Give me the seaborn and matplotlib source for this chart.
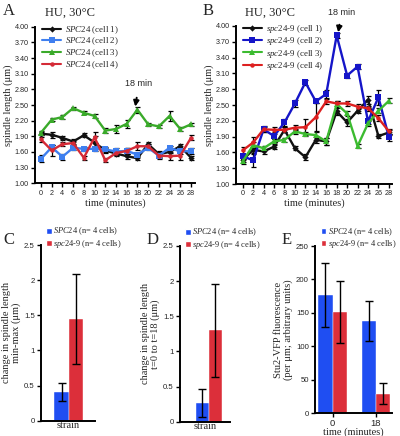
import numpy as np
import pandas as pd
import matplotlib
matplotlib.use("Agg")
import matplotlib.pyplot as plt
import seaborn as sns
from matplotlib.lines import Line2D
from matplotlib.patches import Patch

# ---------------- data ----------------
time_min = [0, 2, 4, 6, 8, 10, 12, 14, 16, 18, 20, 22, 24, 26, 28]

a_cell1 = [1.95, 1.93, 1.87, 1.80, 1.92, 1.78, 1.63, 1.57, 1.52, 1.48, 1.75, 1.56, 1.60, 1.71, 1.49]
a_cell2 = [1.47, 1.69, 1.51, 1.68, 1.66, 1.66, 1.65, 1.61, 1.62, 1.55, 1.68, 1.53, 1.68, 1.61, 1.62]
a_cell3 = [1.97, 2.22, 2.27, 2.44, 2.35, 2.29, 2.01, 2.04, 2.14, 2.41, 2.13, 2.09, 2.29, 2.04, 2.13]
a_cell4 = [1.84, 1.63, 1.75, 1.77, 1.49, 1.88, 1.44, 1.58, 1.62, 1.71, 1.71, 1.53, 1.52, 1.53, 1.87]
a_err1 = [0.03, 0.06, 0.04, 0.05, 0.04, 0.12, 0.05, 0.05, 0.05, 0.04, 0.04, 0.05, 0.05, 0.04, 0.04]
a_err2 = [0.07, 0.05, 0.06, 0.04, 0.04, 0.04, 0.05, 0.06, 0.05, 0.04, 0.04, 0.05, 0.04, 0.04, 0.05]
a_err3 = [0.04, 0.03, 0.03, 0.03, 0.03, 0.03, 0.04, 0.07, 0.08, 0.06, 0.03, 0.03, 0.09, 0.04, 0.03]
a_err4 = [0.04, 0.10, 0.04, 0.04, 0.04, 0.10, 0.04, 0.04, 0.05, 0.08, 0.04, 0.06, 0.07, 0.08, 0.05]

b_cell1 = [1.46, 1.65, 1.62, 1.71, 2.03, 1.68, 1.51, 1.84, 1.81, 2.38, 2.17, 2.39, 2.60, 1.91, 1.98]
b_cell2 = [1.53, 1.45, 2.04, 1.91, 2.17, 2.53, 2.93, 2.57, 2.71, 3.82, 3.06, 3.23, 2.19, 2.65, 1.89]
b_cell3 = [1.43, 1.74, 1.68, 1.81, 1.84, 2.00, 1.95, 1.93, 1.81, 2.52, 2.34, 1.72, 2.15, 2.39, 2.58]
b_cell4 = [1.64, 1.79, 2.04, 2.03, 2.03, 2.07, 2.08, 2.27, 2.57, 2.53, 2.53, 2.47, 2.44, 2.25, 2.00]
b_err1 = [0.05, 0.06, 0.04, 0.04, 0.05, 0.04, 0.06, 0.06, 0.06, 0.06, 0.07, 0.05, 0.08, 0.04, 0.05]
b_err2 = [0.05, 0.12, 0.06, 0.05, 0.06, 0.06, 0.05, 0.04, 0.07, 0.04, 0.04, 0.04, 0.05, 0.14, 0.07]
b_err3 = [0.04, 0.05, 0.04, 0.04, 0.04, 0.04, 0.04, 0.05, 0.07, 0.06, 0.05, 0.04, 0.05, 0.05, 0.05]
b_err4 = [0.06, 0.10, 0.05, 0.05, 0.05, 0.05, 0.15, 0.27, 0.05, 0.05, 0.05, 0.05, 0.05, 0.06, 0.05]

cell_labels = ["cell 1", "cell 2", "cell 3", "cell 4"]

strains = ["SPC24", "spc24-9"]
c_vals = [0.41, 1.45]
c_errs = [0.13, 0.64]
d_vals = [0.27, 1.30]
d_errs = [0.20, 0.66]
e_times = ["0", "18"]
e_spc24 = [176, 138]
e_spc24_err = [48, 30]
e_spc249 = [151, 29]
e_spc249_err = [46, 16]

# ---------------- style ----------------
sns.set_style("ticks")
plt.rcParams["font.family"] = ["Liberation Serif", "DejaVu Serif"]
plt.rcParams["mathtext.fontset"] = "custom"
plt.rcParams["mathtext.rm"] = "Liberation Serif"
plt.rcParams["mathtext.it"] = "Liberation Serif:italic"
plt.rcParams["axes.linewidth"] = 1.4

W, H = 400, 436
fig = plt.figure(figsize=(W / 100, H / 100), dpi=100)


def px_axes(left, top, right, bottom):
    return fig.add_axes([left / W, 1 - bottom / H, (right - left) / W, (bottom - top) / H])


def it_name(s):
    # italic strain name; use a real hyphen (U+2010) so mathtext does not make a minus sign
    return r"$\it{" + s.replace("-", "\u2010") + "}$"


def style_ax(ax, tick_fs=5.2):
    sns.despine(ax=ax)
    ax.tick_params(axis="both", direction="out", length=3, width=1.0, labelsize=tick_fs, pad=1.5, color="black")
    for lab in ax.get_xticklabels() + ax.get_yticklabels():
        lab.set_fontfamily("Liberation Sans")
    for s in ("left", "bottom"):
        ax.spines[s].set_color("black")


def line_panel(ax, series, errs, colors, strain_name, xlim, letter_xy, letter):
    df = pd.DataFrame({
        "t": np.tile(time_min, 4),
        "len": np.concatenate(series),
        "cell": np.repeat(cell_labels, len(time_min)),
    })
    markers = {"cell 1": "D", "cell 2": "s", "cell 3": "^", "cell 4": "o"}
    msize = {"cell 1": 3.2, "cell 2": 3.8, "cell 3": 4.2, "cell 4": 3.2}
    pal = dict(zip(cell_labels, colors))
    for lab, vals, er in zip(cell_labels, series, errs):
        ax.errorbar(time_min, vals, yerr=er, fmt="none", ecolor="black", elinewidth=0.9,
                    capsize=1.8, capthick=0.9, zorder=1)
    for lab in cell_labels:
        sub = df[df["cell"] == lab]
        sns.lineplot(data=sub, x="t", y="len", color=pal[lab], marker=markers[lab],
                     markersize=msize[lab], markeredgewidth=0, linewidth=1.7, ax=ax,
                     zorder=3)
    ax.set_xlim(*xlim)
    ax.set_ylim(1.0, 4.0)
    ax.set_xticks(time_min)
    ax.set_yticks(np.arange(1.0, 4.01, 0.3))
    ax.set_yticklabels([f"{v:.2f}" for v in np.arange(1.0, 4.01, 0.3)])
    ax.set_xlabel("time (minutes)", fontsize=7.5, labelpad=1)
    ax.set_ylabel("spindle length (\u03bcm)", fontsize=7.5, labelpad=1)
    style_ax(ax, 5.2)
    handles = [Line2D([0], [0], color=c, marker=markers[l], markersize=msize[l], markeredgewidth=0,
                      linewidth=1.5) for l, c in zip(cell_labels, colors)]
    labels = [f"{it_name(strain_name)} ({l})" for l in cell_labels]
    ax.legend(handles, labels, loc="upper left", bbox_to_anchor=(0.02, 1.04), frameon=False,
              fontsize=6.4, handlelength=2.2, handletextpad=0.4, labelspacing=0.02,
              borderaxespad=0)
    fig.text(letter_xy[0] / W, 1 - letter_xy[1] / H, letter, fontsize=12, ha="left", va="center")


# ---------------- Panel A ----------------
axA = px_axes(35, 26.7, 195, 183.3)
line_panel(axA, [a_cell1, a_cell2, a_cell3, a_cell4], [a_err1, a_err2, a_err3, a_err4],
           ["#111111", "#3f7fef", "#3aaa2a", "#d42a36"], "SPC24", (-1.12, 28.75), (3, 11), "A")
fig.text(45 / W, 1 - 13 / H, "HU, 30\u00b0C", fontsize=9, va="center")
axA.annotate("18 min", xy=(17.6, 2.47), xytext=(18.3, 2.92), ha="center", va="center",
             fontsize=6.5, fontfamily="Liberation Sans",
             arrowprops=dict(arrowstyle="-|>,head_width=0.25,head_length=0.5", color="black", lw=1.4,
                             shrinkA=5, shrinkB=0))

# ---------------- Panel B ----------------
axB = px_axes(236, 26, 392, 184.1)
line_panel(axB, [b_cell1, b_cell2, b_cell3, b_cell4], [b_err1, b_err2, b_err3, b_err4],
           ["#111111", "#1515c8", "#3cbb30", "#dd2020"], "spc24-9", (-1.29, 28.6), (203, 11), "B")
fig.text(245 / W, 1 - 13 / H, "HU, 30\u00b0C", fontsize=9, va="center")
axB.annotate("18 min", xy=(18.3, 3.88), xytext=(18.9, 4.25), ha="center", va="center",
             fontsize=6.5, fontfamily="Liberation Sans", annotation_clip=False,
             arrowprops=dict(arrowstyle="-|>,head_width=0.25,head_length=0.5", color="black", lw=1.4,
                             shrinkA=3, shrinkB=0))

# ---------------- Bar panels ----------------
bar_pal = {"SPC24": "#1f4ef2", "spc24-9": "#dc2f3a"}


def bar_panel(ax, vals, errs, cats, ylabel, ylim, yticks, yticklabels, xlabel, xlim, width, show_xticks):
    if len(cats) > 1:
        cat_col = [c for c in cats for _ in strains]
        strain_col = strains * len(cats)
    else:
        cat_col = [cats[0]] * 2
        strain_col = strains
    df = pd.DataFrame({"cat": cat_col, "strain": strain_col, "val": vals, "err": errs})
    sns.barplot(data=df, x="cat", y="val", hue="strain", hue_order=strains, palette=bar_pal,
                errorbar=None, width=width, ax=ax, legend=False, saturation=1,
                edgecolor="#ffffff", linewidth=0.3)
    for cont, s in zip(ax.containers, strains):
        sub = df[df["strain"] == s]
        for bar, (_, row) in zip(cont, sub.iterrows()):
            xc = bar.get_x() + bar.get_width() / 2
            ax.errorbar(xc, row["val"], yerr=row["err"], fmt="none", ecolor="black", elinewidth=1.0,
                        capsize=3, capthick=1.0, zorder=5)
    ax.set_xlim(*xlim)
    ax.set_ylim(*ylim)
    ax.set_yticks(yticks)
    ax.set_yticklabels(yticklabels)
    ax.set_ylabel(ylabel, fontsize=7.5, labelpad=2, linespacing=1.1)
    ax.set_xlabel(xlabel, fontsize=7.5, labelpad=0)
    if not show_xticks:
        ax.set_xticks([])
    style_ax(ax, 5.6)
    if show_xticks:
        ax.tick_params(axis="x", labelsize=6.8, pad=1)
        for lab in ax.get_xticklabels():
            lab.set_fontfamily("Liberation Sans")
    handles = [Patch(facecolor=bar_pal[s]) for s in strains]
    labels = [f"{it_name(s)} (n= 4 cells)" for s in strains]
    ax.legend(handles, labels, loc="lower left", bbox_to_anchor=(0.03, 0.955), frameon=False,
              fontsize=6.0, handlelength=0.7, handleheight=0.7, handletextpad=0.2,
              labelspacing=0.02, borderaxespad=0)


# Panel C
axC = px_axes(41, 245, 95, 420.7)
bar_panel(axC, c_vals, c_errs, ["strain"], "change in spindle length\nmin-max (\u03bcm)",
          (0, 2.5), [0, 0.5, 1, 1.5, 2, 2.5], ["0", "0.5", "1", "1.5", "2", "2.5"], "strain",
          (-0.77, 0.72), 0.8, False)
fig.text(3 / W, 1 - 240 / H, "C", fontsize=12, va="center")

# Panel D
axD = px_axes(180, 246, 230, 421.7)
bar_panel(axD, d_vals, d_errs, ["strain"], "change in spindle length\nt=0 to t=18 (\u03bcm)",
          (0, 2.5), [0, 0.5, 1, 1.5, 2, 2.5], ["0", "0.5", "1", "1.5", "2", "2.5"], "strain",
          (-0.89, 0.65), 0.8, False)
fig.text(147 / W, 1 - 240 / H, "D", fontsize=12, va="center")

# Panel E
e_vals = [e_spc24[0], e_spc249[0], e_spc24[1], e_spc249[1]]
e_errs = [e_spc24_err[0], e_spc249_err[0], e_spc24_err[1], e_spc249_err[1]]
axE = px_axes(315, 246, 392, 413)
bar_panel(axE, e_vals, e_errs, e_times, "Stu2-VFP fluorescence\n(per \u03bcm; arbitrary units)",
          (0, 250), [0, 50, 100, 150, 200, 250], ["0", "50", "100", "150", "200", "250"],
          "time (minutes)", (-0.41, 1.37), 0.67, True)
fig.text(282 / W, 1 - 240 / H, "E", fontsize=12, va="center")

fig.savefig("out.png", dpi=100)
